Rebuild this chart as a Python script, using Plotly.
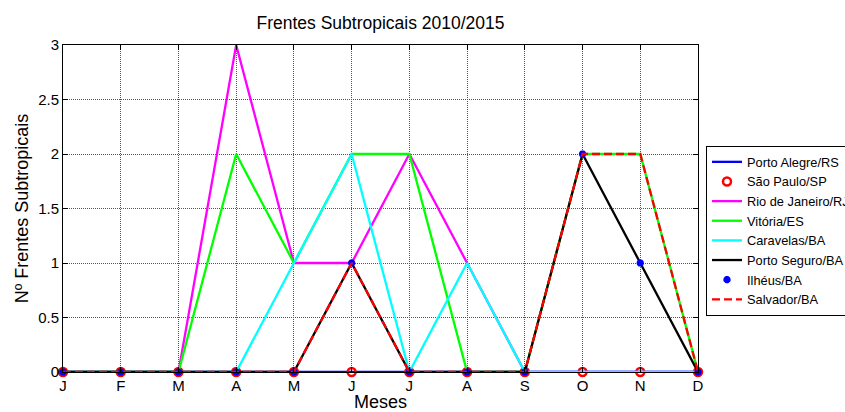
import plotly.graph_objects as go

# months (numeric positions, labels shown as initials)
month_pos = [1, 2, 3, 4, 5, 6, 7, 8, 9, 10, 11, 12]
month_labels = ["J", "F", "M", "A", "M", "J", "J", "A", "S", "O", "N", "D"]

porto_alegre = [0, 0, 0, 0, 0, 0, 0, 0, 0, 0, 0, 0]
sao_paulo = [0, 0, 0, 0, 0, 0, 0, 0, 0, 0, 0, 0]
rio = [0, 0, 0, 3, 1, 1, 2, 1, 0, 0, 0, 0]
vitoria = [0, 0, 0, 2, 1, 2, 2, 0, 0, 2, 2, 0]
caravelas = [0, 0, 0, 0, 1, 2, 0, 1, 0, 0, 0, 0]
porto_seguro = [0, 0, 0, 0, 0, 1, 0, 0, 0, 2, 1, 0]
ilheus = [0, 0, 0, 0, 0, 1, 0, 0, 0, 2, 1, 0]
salvador = [0, 0, 0, 0, 0, 1, 0, 0, 0, 2, 2, 0]

font_family = "Arial, Liberation Sans, sans-serif"
lw = 2.3

fig = go.Figure()

fig.add_trace(go.Scatter(x=month_pos, y=porto_alegre, name="Porto Alegre/RS", mode="lines",
                         line=dict(color="#0000ff", width=lw)))
fig.add_trace(go.Scatter(x=month_pos, y=sao_paulo, name="São Paulo/SP", mode="markers",
                         marker=dict(symbol="circle-open", color="#ff0000", size=8,
                                     line=dict(width=2.5, color="#ff0000")),
                         cliponaxis=False))
fig.add_trace(go.Scatter(x=month_pos, y=rio, name="Rio de Janeiro/RJ", mode="lines",
                         line=dict(color="#ff00ff", width=lw)))
fig.add_trace(go.Scatter(x=month_pos, y=vitoria, name="Vitória/ES", mode="lines",
                         line=dict(color="#00ff00", width=lw)))
fig.add_trace(go.Scatter(x=month_pos, y=caravelas, name="Caravelas/BA", mode="lines",
                         line=dict(color="#00ffff", width=lw)))
fig.add_trace(go.Scatter(x=month_pos, y=porto_seguro, name="Porto Seguro/BA", mode="lines",
                         line=dict(color="#000000", width=lw)))
fig.add_trace(go.Scatter(x=month_pos, y=ilheus, name="Ilhéus/BA", mode="markers",
                         marker=dict(symbol="asterisk-open", color="#0000ff", size=6,
                                     line=dict(width=2.5, color="#0000ff")),
                         cliponaxis=False))
fig.add_trace(go.Scatter(x=month_pos, y=salvador, name="Salvador/BA", mode="lines",
                         line=dict(color="#ff0000", width=lw, dash="8px,4px")))

fig.update_layout(
    width=845, height=412,
    margin=dict(l=63, r=147, t=45, b=40),
    minreducedwidth=635, minreducedheight=327,
    paper_bgcolor="white", plot_bgcolor="white",
    font=dict(family=font_family, size=15, color="black"),
    title=dict(text="Frentes Subtropicais 2010/2015", xref="paper", x=0.5, xanchor="center",
               yref="container", y=0.945, yanchor="middle", automargin=False,
               font=dict(size=17.5)),
    showlegend=True,
    # legend in container coords so it does not push the margins (it is clipped at the right edge)
    legend=dict(xref="container", yref="container", x=0.8355, xanchor="left",
                y=0.6456, yanchor="top",
                bordercolor="black", borderwidth=1, bgcolor="white",
                font=dict(size=12.8), tracegroupgap=0, itemwidth=30),
)

fig.update_xaxes(range=[1, 12], tickvals=month_pos, ticktext=month_labels,
                 showline=True, linecolor="black", linewidth=1, mirror="allticks",
                 ticks="inside", ticklen=5, tickcolor="black",
                 showgrid=True, gridcolor="#555555", griddash="1px,1px", gridwidth=1,
                 zeroline=False, title=dict(text="Meses", standoff=0),
                 tickfont=dict(size=15), automargin=False)
fig.update_yaxes(range=[0, 3], tickvals=[0, 0.5, 1, 1.5, 2, 2.5, 3],
                 ticktext=["0", "0.5", "1", "1.5", "2", "2.5", "3"],
                 showline=True, linecolor="black", linewidth=1, mirror="allticks",
                 ticks="inside", ticklen=5, tickcolor="black",
                 showgrid=True, gridcolor="#555555", griddash="1px,1px", gridwidth=1,
                 zeroline=False, title=dict(text="Nº Frentes Subtropicais", standoff=4),
                 tickfont=dict(size=15), automargin=False)

# drop the browser's default 8px body margin so the figure sits at the window corner
fig.write_html("out.html", config={"displayModeBar": False},
               post_script="document.body.style.margin='0';")
